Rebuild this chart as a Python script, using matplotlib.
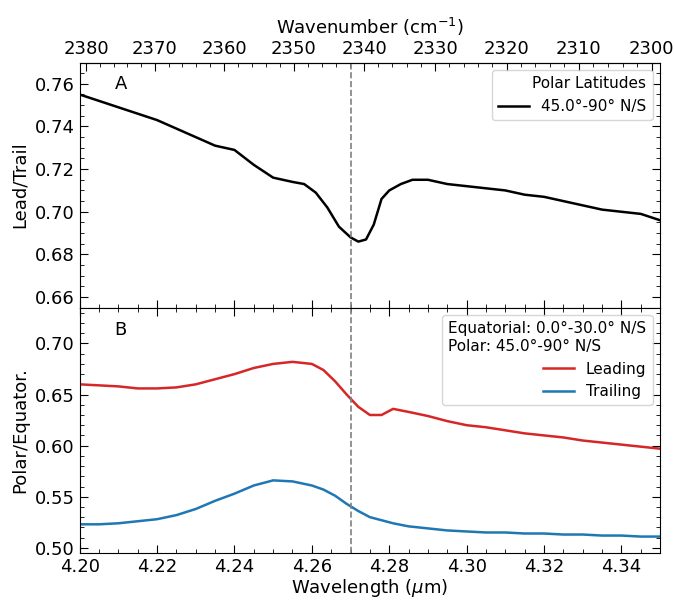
import numpy as np
import matplotlib
matplotlib.use("Agg")
import matplotlib.pyplot as plt
from matplotlib.ticker import MultipleLocator

wl_a = [4.200,4.205,4.210,4.215,4.220,4.225,4.230,4.235,4.240,4.245,4.250,4.255,4.258,4.261,4.264,4.267,4.270,4.272,4.274,4.276,4.278,4.280,4.283,4.286,4.290,4.295,4.300,4.305,4.310,4.315,4.320,4.325,4.330,4.335,4.340,4.345,4.350]
lt_a = [0.755,0.752,0.749,0.746,0.743,0.739,0.735,0.731,0.729,0.722,0.716,0.714,0.713,0.709,0.702,0.693,0.688,0.686,0.687,0.694,0.706,0.710,0.713,0.715,0.715,0.713,0.712,0.711,0.710,0.708,0.707,0.705,0.703,0.701,0.700,0.699,0.696]

wl_b = [4.200,4.205,4.210,4.215,4.220,4.225,4.230,4.235,4.240,4.245,4.250,4.255,4.260,4.263,4.266,4.269,4.272,4.275,4.278,4.281,4.285,4.290,4.295,4.300,4.305,4.310,4.315,4.320,4.325,4.330,4.335,4.340,4.345,4.350]
lead = [0.660,0.659,0.658,0.656,0.656,0.657,0.660,0.665,0.670,0.676,0.680,0.682,0.680,0.674,0.663,0.650,0.638,0.630,0.630,0.636,0.633,0.629,0.624,0.620,0.618,0.615,0.612,0.610,0.608,0.605,0.603,0.601,0.599,0.597]
trail = [0.523,0.523,0.524,0.526,0.528,0.532,0.538,0.546,0.553,0.561,0.566,0.565,0.561,0.557,0.551,0.543,0.536,0.530,0.527,0.524,0.521,0.519,0.517,0.516,0.515,0.515,0.514,0.514,0.513,0.513,0.512,0.512,0.511,0.511]

FS = 13
fig = plt.figure(figsize=(6.75, 6.01), dpi=100)
ax1 = fig.add_axes([0.118, 0.488, 0.86, 0.408])
ax2 = fig.add_axes([0.118, 0.080, 0.86, 0.408], sharex=ax1)

ax1.plot(wl_a, lt_a, color='black', lw=1.8, label='45.0°-90° N/S')
ax2.plot(wl_b, lead, color='#d62728', lw=1.8, label='Leading')
ax2.plot(wl_b, trail, color='#1f77b4', lw=1.8, label='Trailing')
for ax in (ax1, ax2):
    ax.axvline(4.27, color='gray', ls='--', lw=1.2)
    ax.tick_params(direction='in', which='both', top=True, right=True, labelsize=FS)
    ax.tick_params(which='major', length=6)
    ax.tick_params(which='minor', length=3)
ax1.set_xlim(4.20, 4.35)
ax1.set_ylim(0.655, 0.77)
ax1.yaxis.set_major_locator(MultipleLocator(0.02))
ax1.yaxis.set_minor_locator(MultipleLocator(0.005))
ax2.set_ylim(0.495, 0.735)
ax2.yaxis.set_major_locator(MultipleLocator(0.05))
ax2.yaxis.set_minor_locator(MultipleLocator(0.01))
ax2.xaxis.set_major_locator(MultipleLocator(0.02))
ax2.xaxis.set_minor_locator(MultipleLocator(0.005))
plt.setp(ax1.get_xticklabels(), visible=False)
ax1.tick_params(top=False, which='both')

sec = ax1.secondary_xaxis('top', functions=(lambda x: 1e4/np.asarray(x), lambda x: 1e4/np.asarray(x)))
sec.set_xticks(np.arange(2300, 2381, 10))
sec.xaxis.set_minor_locator(MultipleLocator(2))
sec.tick_params(direction='in', which='both', labelsize=FS)
sec.tick_params(which='major', length=6)
sec.tick_params(which='minor', length=3)
sec.set_xlabel('Wavenumber (cm$^{-1}$)', fontsize=FS)

ax1.set_ylabel('Lead/Trail', fontsize=FS)
ax2.set_ylabel('Polar/Equator.', fontsize=FS)
ax2.set_xlabel('Wavelength ($\\mu$m)', fontsize=FS, labelpad=1)
ax1.text(0.06, 0.89, 'A', transform=ax1.transAxes, fontsize=FS)
ax2.text(0.06, 0.89, 'B', transform=ax2.transAxes, fontsize=FS)
ax1.legend(loc='upper right', title='Polar Latitudes', fontsize=11, title_fontsize=11, alignment='right')
ax2.legend(loc='upper right', title='Equatorial: 0.0°-30.0° N/S\nPolar: 45.0°-90° N/S', fontsize=11, title_fontsize=11, alignment='right')
fig.savefig('out.png', dpi=100)
